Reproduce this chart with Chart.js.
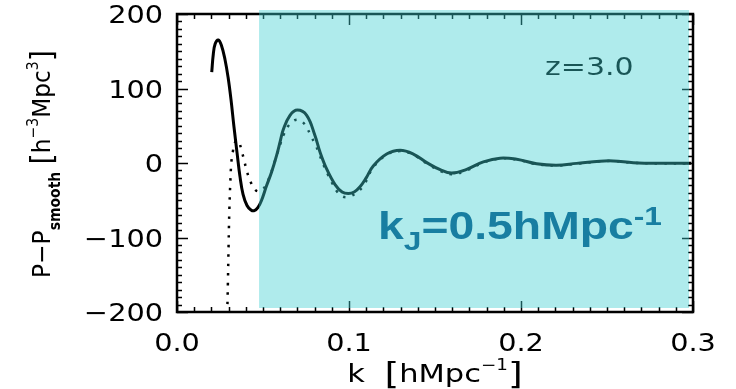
<!DOCTYPE html>
<html>
<head>
<meta charset="utf-8">
<script src="https://cdn.jsdelivr.net/npm/chart.js@4.4.1/dist/chart.umd.min.js"></script>
<style>
  html, body { margin: 0; padding: 0; background: #fff; }
  #wrap { width: 736px; height: 389px; position: relative; }
</style>
</head>
<body>
<div id="wrap"><canvas id="c"></canvas></div>
<script>
// solid curve: k [h/Mpc] and P - P_smooth
const kSolid = [0.0202, 0.0211, 0.0222, 0.0240, 0.0258, 0.0279, 0.0297, 0.0314, 0.0331, 0.0349,
  0.0366, 0.0384, 0.0407, 0.0430, 0.0450, 0.0470, 0.0490, 0.0520, 0.0550, 0.0580, 0.0600, 0.0618,
  0.0657, 0.0700, 0.0754, 0.0802, 0.0831, 0.0870, 0.0919, 0.0960, 0.0996, 0.1030, 0.1064, 0.1100,
  0.1141, 0.1219, 0.1297, 0.1374, 0.1452, 0.1530, 0.1597, 0.1684, 0.1781, 0.1878, 0.1975, 0.2091,
  0.2207, 0.2323, 0.2459, 0.2537, 0.2653, 0.2808, 0.2990];
const pSolid = [122, 146, 160, 165, 158, 139, 115, 85, 49, 14,
  -18, -42, -57, -63, -64, -60, -51, -31, -12, 11, 29, 45,
  64, 71, 64, 37, 15, -8, -29, -39, -41, -39, -32, -20,
  -4, 12, 17, 12, 0.5, -9, -13.5, -8.5, 1.5, 6.5, 5, -1,
  -3, -0.5, 2.5, 2.8, 0.5, -0.4, -0.3];

// dotted curve
const kDotted = [0.0291, 0.0296, 0.0300, 0.0304, 0.0310, 0.0316, 0.0324, 0.0336, 0.0356, 0.0376,
  0.0391, 0.0405, 0.0424, 0.0448, 0.0470, 0.0496, 0.0527, 0.0570, 0.0603, 0.0622, 0.0651, 0.0680,
  0.0705, 0.0730, 0.0754, 0.0779, 0.0806, 0.0827, 0.0851, 0.0874, 0.0899, 0.0928, 0.0955, 0.0983,
  0.1010, 0.1040, 0.1083, 0.1141, 0.1219, 0.1297, 0.1374, 0.1452, 0.1530, 0.1597, 0.1684, 0.1781,
  0.1878, 0.1975, 0.2091, 0.2207, 0.2323, 0.2459, 0.2537, 0.2653, 0.2808, 0.2990];
const pDotted = [-215, -160, -110, -66, -26, 1, 14, 27, 30, 16,
  3, -10, -23, -34, -38, -36, -25, 3, 27, 39, 51, 57,
  58, 55, 48, 36, 24, 12, -2, -14, -25.5, -37.6, -44, -46,
  -44.5, -40.5, -31, -6, 11, 16, 11, -0.5, -10.5, -15, -10, 0.5,
  6, 4.5, -1.5, -3.5, -1, 2.2, 2.5, 0.2, -0.6, -0.5];

const xTickValues = [0, 0.1, 0.2, 0.3];
const xTickLabels = ['0.0', '0.1', '0.2', '0.3'];
const yTickValues = [-200, -100, 0, 100, 200];
const yTickLabels = ['\u2212200', '\u2212100', '0', '100', '200'];
const shadeFrom = 0.0477;   // k where the cyan band starts
const redshiftLabel = 'z=3.0';

const FONT = '"DejaVu Sans", sans-serif';
const BOLD = '"Liberation Sans", Arial, sans-serif';

function toPoints(xs, ys) {
  return xs.map((x, i) => ({ x: x, y: ys[i] }));
}

// text pieces [{t, size, dy, bold, fam}] laid out left to right
function measureRich(ctx, parts) {
  let w = 0;
  parts.forEach(p => {
    ctx.font = (p.bold ? 'bold ' : '') + p.size + 'px ' + (p.fam || FONT);
    w += ctx.measureText(p.t).width;
  });
  return w;
}

function drawRich(ctx, parts, x, y, sx, align, color) {
  const w = measureRich(ctx, parts) * sx;
  let x0 = x;
  if (align === 'center') x0 = x - w / 2;
  if (align === 'right') x0 = x - w;
  ctx.save();
  ctx.translate(x0, y);
  ctx.scale(sx, 1);
  ctx.fillStyle = color;
  ctx.textAlign = 'left';
  ctx.textBaseline = 'alphabetic';
  let cx = 0;
  parts.forEach(p => {
    ctx.font = (p.bold ? 'bold ' : '') + p.size + 'px ' + (p.fam || FONT);
    ctx.fillText(p.t, cx, p.dy || 0);
    cx += ctx.measureText(p.t).width;
  });
  ctx.restore();
}

const idlFrame = {
  id: 'idlFrame',
  beforeDatasetsDraw(chart) {
    const { ctx, chartArea: a, scales: { x, y } } = chart;
    ctx.save();
    ctx.strokeStyle = '#000';
    ctx.lineWidth = 1.5;
    ctx.beginPath();
    // x ticks, top and bottom
    for (let i = 0; i <= 30; i++) {
      const px = Math.round(x.getPixelForValue(i / 100)) + 0.5;
      const len = (i % 10 === 0) ? 11 : 5;
      ctx.moveTo(px, a.bottom); ctx.lineTo(px, a.bottom - len);
      ctx.moveTo(px, a.top); ctx.lineTo(px, a.top + len);
    }
    // y ticks, left and right
    for (let v = -200; v <= 200; v += 10) {
      const py = Math.round(y.getPixelForValue(v)) + 0.5;
      const len = (v % 100 === 0) ? 11 : 5;
      ctx.moveTo(a.left, py); ctx.lineTo(a.left + len, py);
      ctx.moveTo(a.right, py); ctx.lineTo(a.right - len, py);
    }
    ctx.stroke();
    ctx.lineWidth = 2.5;
    ctx.strokeRect(a.left, a.top, a.right - a.left, a.bottom - a.top);

    // redshift label (sits below the cyan band)
    drawRich(ctx, [{ t: redshiftLabel, size: 24 }], 545, 75, 1.25, 'left', '#000');
    ctx.restore();
  },
  afterDatasetsDraw(chart) {
    const { ctx, chartArea: a, scales: { x } } = chart;
    const left = x.getPixelForValue(shadeFrom);
    ctx.save();
    ctx.fillStyle = 'rgba(61,207,210,0.41)';
    ctx.fillRect(left, a.top - 4, a.right - 4 - left, a.bottom - a.top);
    ctx.restore();
  },
  afterDraw(chart) {
    const { ctx, chartArea: a, scales: { x, y } } = chart;
    ctx.save();
    // tick labels
    x.ticks.forEach(t => {
      const px = x.getPixelForValue(t.value);
      const idx = xTickValues.findIndex(v => Math.abs(v - t.value) < 1e-9);
      drawRich(ctx, [{ t: xTickLabels[idx], size: 25 }], px, 351, 1.15, 'center', '#000');
    });
    y.ticks.forEach(t => {
      const py = y.getPixelForValue(t.value);
      const idx = yTickValues.indexOf(t.value);
      drawRich(ctx, [{ t: yTickLabels[idx], size: 25 }], a.left - 14, py + 9, 1.15, 'right', '#000');
    });

    // x axis title
    drawRich(ctx, [
      { t: 'k  ', size: 25 },
      { t: '[', size: 31, dy: 2 },
      { t: 'hMpc', size: 25 },
      { t: '\u22121', size: 15, dy: -12 },
      { t: ']', size: 31, dy: 2 }
    ], (a.left + a.right) / 2, 382, 1.22, 'center', '#000');

    // y axis title, rotated
    ctx.save();
    ctx.translate(50, 164);
    ctx.rotate(-Math.PI / 2);
    drawRich(ctx, [
      { t: 'P\u2212P', size: 25 },
      { t: 'smooth', size: 15, bold: true, dy: 10 },
      { t: ' ', size: 25 },
      { t: '[', size: 31, dy: 2 },
      { t: 'h', size: 25 },
      { t: '\u22123', size: 15, dy: -12 },
      { t: 'Mpc', size: 25 },
      { t: '3', size: 15, dy: -12 },
      { t: ']', size: 31, dy: 2 }
    ], 0, 0, 0.93, 'center', '#000');
    ctx.restore();

    // Jeans scale annotation on top of the band
    const kjParts = [
      { t: 'k', size: 38, bold: true, fam: BOLD },
      { t: 'J', size: 26, bold: true, fam: BOLD, dy: 11 },
      { t: '=0.5hMpc', size: 38, bold: true, fam: BOLD },
      { t: '-1', size: 26, bold: true, fam: BOLD, dy: -14 }
    ];
    const kjW = measureRich(ctx, kjParts);
    drawRich(ctx, kjParts, 378, 239, 284 / kjW, 'left', '#187ea1');
    ctx.restore();
  }
};

new Chart(document.getElementById('c'), {
  type: 'line',
  data: {
    datasets: [
      {
        data: toPoints(kSolid, pSolid),
        borderColor: '#000',
        borderWidth: 3,
        pointRadius: 0,
        tension: 0.4,
        fill: false
      },
      {
        data: toPoints(kDotted, pDotted),
        borderColor: '#000',
        borderWidth: 2.5,
        borderDash: [2.5, 7],
        pointRadius: 0,
        tension: 0.4,
        fill: false
      }
    ]
  },
  options: {
    responsive: true,
    maintainAspectRatio: false,
    animation: false,
    events: [],
    layout: { padding: { top: 14, right: 43, left: 0, bottom: 0 } },
    plugins: { legend: { display: false }, tooltip: { enabled: false } },
    scales: {
      x: {
        type: 'linear',
        min: 0, max: 0.3,
        afterBuildTicks: s => { s.ticks = xTickValues.map(v => ({ value: v })); },
        afterFit: s => { s.height = 77; },
        ticks: { display: false },
        grid: { display: false },
        border: { display: false }
      },
      y: {
        type: 'linear',
        min: -200, max: 200,
        afterBuildTicks: s => { s.ticks = yTickValues.map(v => ({ value: v })); },
        afterFit: s => { s.width = 177; },
        ticks: { display: false },
        grid: { display: false },
        border: { display: false }
      }
    }
  },
  plugins: [idlFrame]
});
</script>
</body>
</html>
